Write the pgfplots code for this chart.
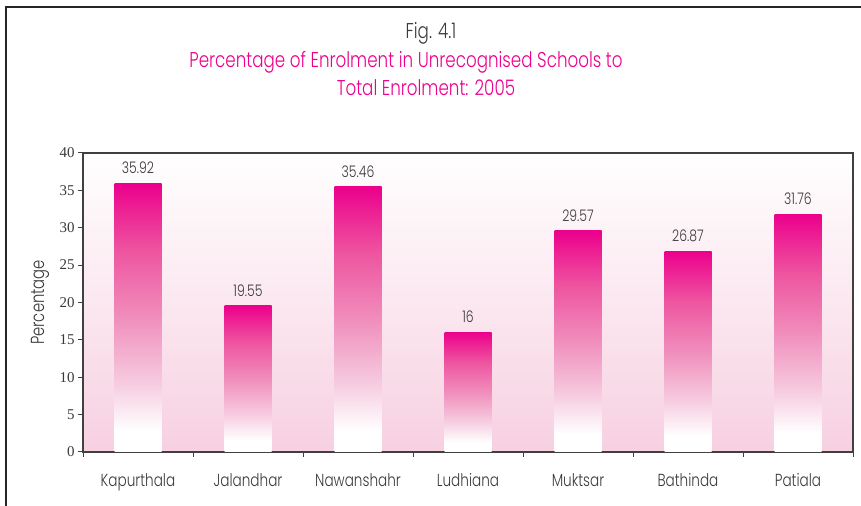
\documentclass[border=0pt]{standalone}
\usepackage{fontspec}
\setmainfont{Poppins}[UprightFont=* Light, FakeStretch=0.78]
\newfontfamily\serifnum{Liberation Serif}
\usepackage{pgfplots}
\pgfplotsset{compat=1.18}
\definecolor{mag}{HTML}{EC008C}
\definecolor{midpink}{HTML}{F08EBC}
\definecolor{midtop}{HTML}{EE55A0}
\definecolor{lowpink}{HTML}{F6CBDF}
\definecolor{bgpink}{HTML}{F7D0E1}
\definecolor{txt}{HTML}{3A3A3A}
\definecolor{axcol}{HTML}{404040}
\pgfdeclareverticalshading{barshade}{100bp}{color(0bp)=(white); color(25bp)=(white); color(29bp)=(white); color(38bp)=(lowpink); color(50bp)=(midpink); color(62.5bp)=(midtop); color(75bp)=(mag); color(100bp)=(mag)}
\pgfplotsset{onebar/.style={draw=none, shade, shading=barshade, bar shift=0pt}}
\begin{document}
\begin{tikzpicture}[x=1bp,y=1bp]
\useasboundingbox (0,0) rectangle (861,506);
\draw[line width=2.6bp, black!85] (6,0) -- (6,499) -- (861,499);
\node[anchor=base, text=txt, font=\fontsize{21.5}{24}\selectfont] at (431,467) {Fig. 4.1};
\node[anchor=base, text=mag, font=\fontsize{21.5}{24}\selectfont] at (406,438) {Percentage of Enrolment in Unrecognised Schools to};
\node[anchor=base, text=mag, font=\fontsize{21.5}{24}\selectfont] at (426,410) {Total Enrolment: 2005};
\begin{axis}[
  at={(83bp,54bp)}, anchor=south west,
  width=770bp, height=299bp, scale only axis,
  ybar, bar width=47bp,
  xmin=-0.5, xmax=6.5, ymin=0, ymax=40,
  ytick={0,5,...,40},
  xtick={-0.5,0.5,1.5,2.5,3.5,4.5,5.5,6.5},
  xticklabels={},
  extra x ticks={0,1,2,3,4,5,6},
  extra x tick labels={Kapurthala,Jalandhar,Nawanshahr,Ludhiana,Muktsar,Bathinda,Patiala},
  extra x tick style={major tick length=0pt},
  xtick pos=left, ytick pos=left,
  tick align=outside, major tick length=5bp,
  tick style={axcol, line width=1bp},
  axis line style={axcol, line width=1.2bp},
  axis background/.style={shade, top color=white, bottom color=bgpink},
  xticklabel style={text=txt, font=\fontsize{17.5}{20}\selectfont, yshift=-18bp},
  yticklabel style={text=txt, font=\serifnum\fontsize{15}{18}\selectfont},
  /pgf/number format/assume math mode=true,
  ylabel={Percentage},
  every axis y label/.style={at={(axis description cs:-0.0558,0.5)}, rotate=90, anchor=center, text=txt, font=\fontsize{19}{21}\selectfont},
  nodes near coords,
  point meta=explicit symbolic,
  every node near coord/.append style={text=txt, font=\fontsize{16}{18}\selectfont, anchor=south, yshift=6bp},
]
\addplot[onebar] coordinates {(0,35.92) [35.92]};
\addplot[onebar] coordinates {(1,19.55) [19.55]};
\addplot[onebar] coordinates {(2,35.46) [35.46]};
\addplot[onebar] coordinates {(3,16.00) [16]};
\addplot[onebar] coordinates {(4,29.57) [29.57]};
\addplot[onebar] coordinates {(5,26.87) [26.87]};
\addplot[onebar] coordinates {(6,31.76) [31.76]};
\end{axis}
\end{tikzpicture}
\end{document}
